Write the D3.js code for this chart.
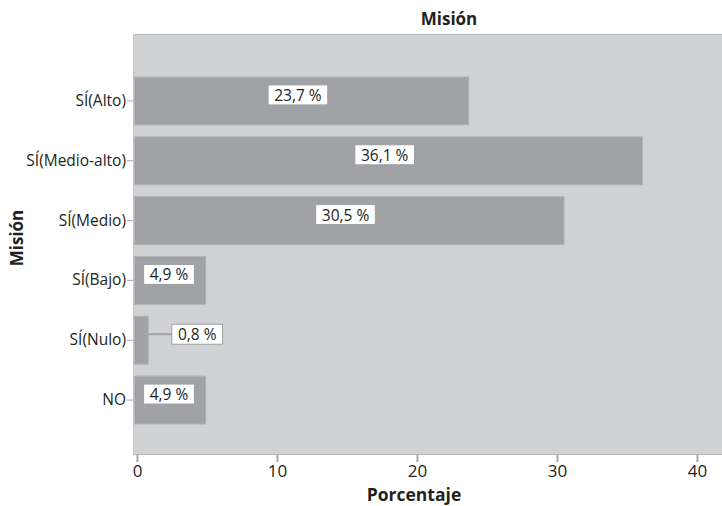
<!DOCTYPE html>
<html><head><meta charset="utf-8">
<script src="https://cdn.jsdelivr.net/npm/d3@7"></script>
<style>
body{margin:0;background:#fff;}
text{font-family:"Open Sans","Noto Sans",sans-serif;fill:#231f20;}
</style></head>
<body><svg id="c" width="722" height="506"></svg>
<script>
const categories = ["SÍ(Alto)","SÍ(Medio-alto)","SÍ(Medio)","SÍ(Bajo)","SÍ(Nulo)","NO"];
const values = [23.7, 36.1, 30.5, 4.9, 0.8, 4.9];
const valueLabels = ["23,7 %","36,1 %","30,5 %","4,9 %","0,8 %","4,9 %"];
const xTicks = [0,10,20,30,40];

const svg = d3.select("#c");
const plot = {left:133, top:34, right:722, bottom:454};
const x = d3.scaleLinear().domain([0,10]).range([137,277]);
const y = d3.scaleBand().domain(categories).range([77,424]).paddingInner(0.2).paddingOuter(0.0);

svg.append("rect").attr("x",plot.left).attr("y",plot.top)
  .attr("width",plot.right-plot.left).attr("height",plot.bottom-plot.top)
  .attr("fill","#d1d2d4");
svg.append("line").attr("x1",plot.left).attr("x2",plot.right).attr("y1",plot.top+0.5).attr("y2",plot.top+0.5).attr("stroke","#b9babc");
svg.append("line").attr("x1",plot.left).attr("x2",plot.right).attr("y1",plot.bottom+0.5).attr("y2",plot.bottom+0.5).attr("stroke","#b9babc");
svg.append("line").attr("x1",plot.left+0.5).attr("x2",plot.left+0.5).attr("y1",plot.top).attr("y2",plot.bottom).attr("stroke","#c4c5c7");

// bars
svg.selectAll("rect.bar").data(values).enter().append("rect").attr("class","bar")
  .attr("x", x(0)-2.5)
  .attr("y",(d,i)=>y(categories[i]))
  .attr("width",d=>x(d)-x(0)+2.5)
  .attr("height",y.bandwidth())
  .attr("fill","#a1a2a6").attr("stroke","#b0b1b4").attr("stroke-width",1);

// y axis
const yAxis = d3.axisLeft(y).tickSize(6).tickPadding(1);
const gy = svg.append("g").attr("transform",`translate(${plot.left},0)`).call(yAxis);
gy.select(".domain").remove();
gy.selectAll(".tick line").attr("stroke","#a7a8aa");
gy.selectAll(".tick text").style("font-size","15.5px").attr("fill","#231f20");

// x axis
const xAxis = d3.axisBottom(x).tickValues(xTicks).tickSize(8).tickPadding(3);
const gx = svg.append("g").attr("transform",`translate(0,${plot.bottom})`).call(xAxis);
gx.select(".domain").remove();
gx.selectAll(".tick line").attr("stroke","#a7a8aa").attr("stroke-width",2);
gx.selectAll(".tick text").style("font-size","17px").attr("fill","#231f20");

// value labels
const lab = svg.selectAll("g.lab").data(values).enter().append("g").attr("class","lab");
lab.each(function(d,i){
  const g = d3.select(this);
  const cy = y(categories[i]) + y.bandwidth()/2 - 6;
  const small = d < 3;
  const t = g.append("text").text(valueLabels[i]).style("font-size","15.5px")
     .attr("text-anchor","middle").attr("dominant-baseline","central");
  let cx;
  if (small) {
    cx = x(d) + 49;
  } else if (d < 10) {
    cx = x(0) + 32;
  } else {
    cx = (x(0)+x(d))/2 - 5;
  }
  t.attr("x",cx).attr("y",cy);
  const bb = t.node().getBBox();
  const w = bb.width + 12, h = 20;
  g.insert("rect","text").attr("x",cx-w/2).attr("y",cy-h/2).attr("width",w).attr("height",h)
    .attr("fill","#fff").attr("stroke","#9d9ea0").attr("stroke-width",1);
  if (small) {
    g.insert("line","rect").attr("x1",x(d)).attr("x2",cx-w/2).attr("y1",cy).attr("y2",cy)
      .attr("stroke","#a1a2a6").attr("stroke-width",2);
  }
});

svg.append("text").attr("x",449).attr("y",25).attr("text-anchor","middle")
  .style("font-size","17px").style("font-weight","bold").text("Misión");
svg.append("text").attr("x",414).attr("y",501).attr("text-anchor","middle")
  .style("font-size","17.5px").style("font-weight","bold").text("Porcentaje");
svg.append("text").attr("transform","translate(23,238) rotate(-90)").attr("text-anchor","middle")
  .style("font-size","17px").style("font-weight","bold").text("Misión");
</script></body></html>
